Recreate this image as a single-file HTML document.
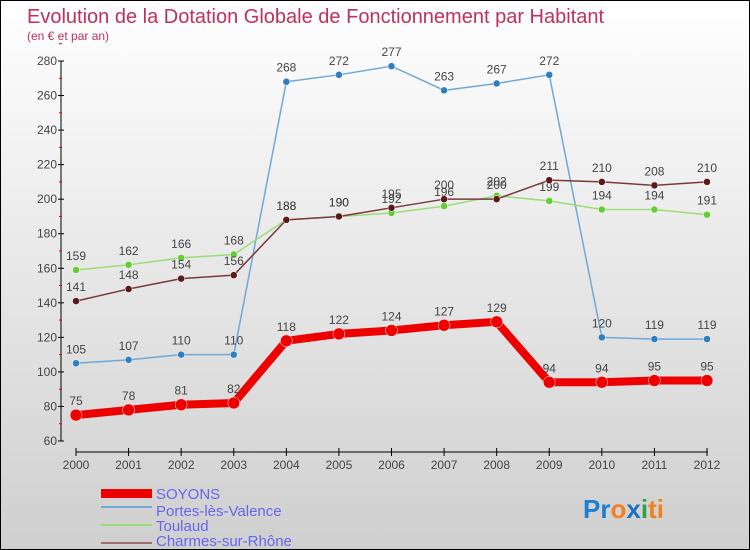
<!DOCTYPE html>
<html><head><meta charset="utf-8"><style>
body{margin:0}
#c{width:750px;height:550px;position:relative;box-sizing:border-box;border:1px solid #000;background:linear-gradient(#ffffff,#cfcfcf);font-family:"Liberation Sans",sans-serif;overflow:hidden}
</style></head><body>
<div id="c">
<svg id="s" width="750" height="550" style="position:absolute;left:0;top:0">
<text x="26" y="22" font-size="20" fill="#c0305a">Evolution de la Dotation Globale de Fonctionnement par Habitant</text>
<text x="26" y="39" font-size="12" fill="#c0305a">(en € et par an)</text>
<g id="axes"></g><g id="plot"></g>
<g>
<rect x="100" y="488" width="51" height="9" fill="#e00"/>
<text x="155" y="498" font-size="15" fill="#6666ee">SOYONS</text>
<line x1="100" y1="546" x2="151" y2="546" transform="translate(0,-40)" stroke="#6fa8d8" stroke-width="2"/>
<text x="155" y="515" font-size="15" fill="#6666ee">Portes-lès-Valence</text>
<line x1="100" y1="524" x2="151" y2="524" stroke="#99dd77" stroke-width="2"/>
<text x="155" y="530" font-size="15" fill="#6666ee">Toulaud</text>
<line x1="100" y1="542" x2="151" y2="542" stroke="#a07070" stroke-width="2"/>
<text x="155" y="545" font-size="15" fill="#6666ee">Charmes-sur-Rhône</text>
</g>
<text x="582" y="517" font-size="26" font-weight="bold"><tspan fill="#1e7fd0">Pr</tspan><tspan fill="#f08020">o</tspan><tspan fill="#2070c0">x</tspan><tspan fill="#30a040">i</tspan><tspan fill="#f08020">ti</tspan></text>
</svg>
</div>
<script>
const years=[2000,2001,2002,2003,2004,2005,2006,2007,2008,2009,2010,2011,2012];
const soyons=[75,78,81,82,118,122,124,127,129,94,94,95,95];
const portes=[105,107,110,110,268,272,277,263,267,272,120,119,119];
const toulaud=[159,162,166,168,188,190,192,196,202,199,194,194,191];
const charmes=[141,148,154,156,188,190,195,200,200,211,210,208,210];
const yTicks=[60,80,100,120,140,160,180,200,220,240,260,280];
const NS="http://www.w3.org/2000/svg";
const xs=i=>75+i*(706-75)/12;
const ys=v=>440-(v-60)*(380/220);
function mk(p,t,a){const e=document.createElementNS(NS,t);for(const k in a)e.setAttribute(k,a[k]);p.appendChild(e);return e;}
const ax=document.getElementById('axes'),pl=document.getElementById('plot');
const ya=mk(ax,'line',{x1:60,y1:ys(280),x2:60,y2:ys(60),stroke:'#000'});


const xa=mk(ax,'line',{x1:75,y1:451,x2:707,y2:451,stroke:'#000'});


yTicks.forEach(v=>{
 mk(ax,'line',{x1:57,x2:63,y1:ys(v),y2:ys(v),stroke:'#000'});
 mk(ax,'line',{x1:58,x2:61,y1:ys(v+10),y2:ys(v+10),stroke:'#e00'});
 const t=mk(ax,'text',{x:56,y:ys(v)+4,'font-size':12,fill:'#444','text-anchor':'end'});
 t.textContent=v;
 
 
});
years.forEach((y,i)=>{
 mk(ax,'line',{x1:xs(i),x2:xs(i),y1:447,y2:455,stroke:'#000'});
 const t=mk(ax,'text',{x:xs(i),y:468,'font-size':12,fill:'#444','text-anchor':'middle'});
 t.textContent=y;
 
 
});
function series(d,col,dot,w,r,name){
 const g=mk(pl,'g',{});
 
 
 const l=mk(g,'polyline',{points:d.map((v,i)=>xs(i)+','+ys(v)).join(' '),fill:'none',stroke:col,'stroke-width':w,'stroke-linejoin':'round'});
 
 
 d.forEach((v,i)=>{
  const c=mk(g,'circle',{cx:xs(i),cy:ys(v),r:r,fill:dot,stroke:'#fff','stroke-width':0.5});
  
  
  const t=mk(g,'text',{x:xs(i),y:ys(v)-10,'font-size':12,fill:'#444','text-anchor':'middle'});
  t.textContent=v;
  
  
 });
}
series(portes,'#6fa8d8','#2f7fc0',1.5,3.5,'portes');
series(toulaud,'#99dd77','#66cc33',1.5,3.5,'toulaud');
series(charmes,'#7a3a3a','#5a1a1a',1.5,3.5,'charmes');
series(soyons,'#ee0000','#ee0000',8,6,'soyons');
</script>
</body></html>
